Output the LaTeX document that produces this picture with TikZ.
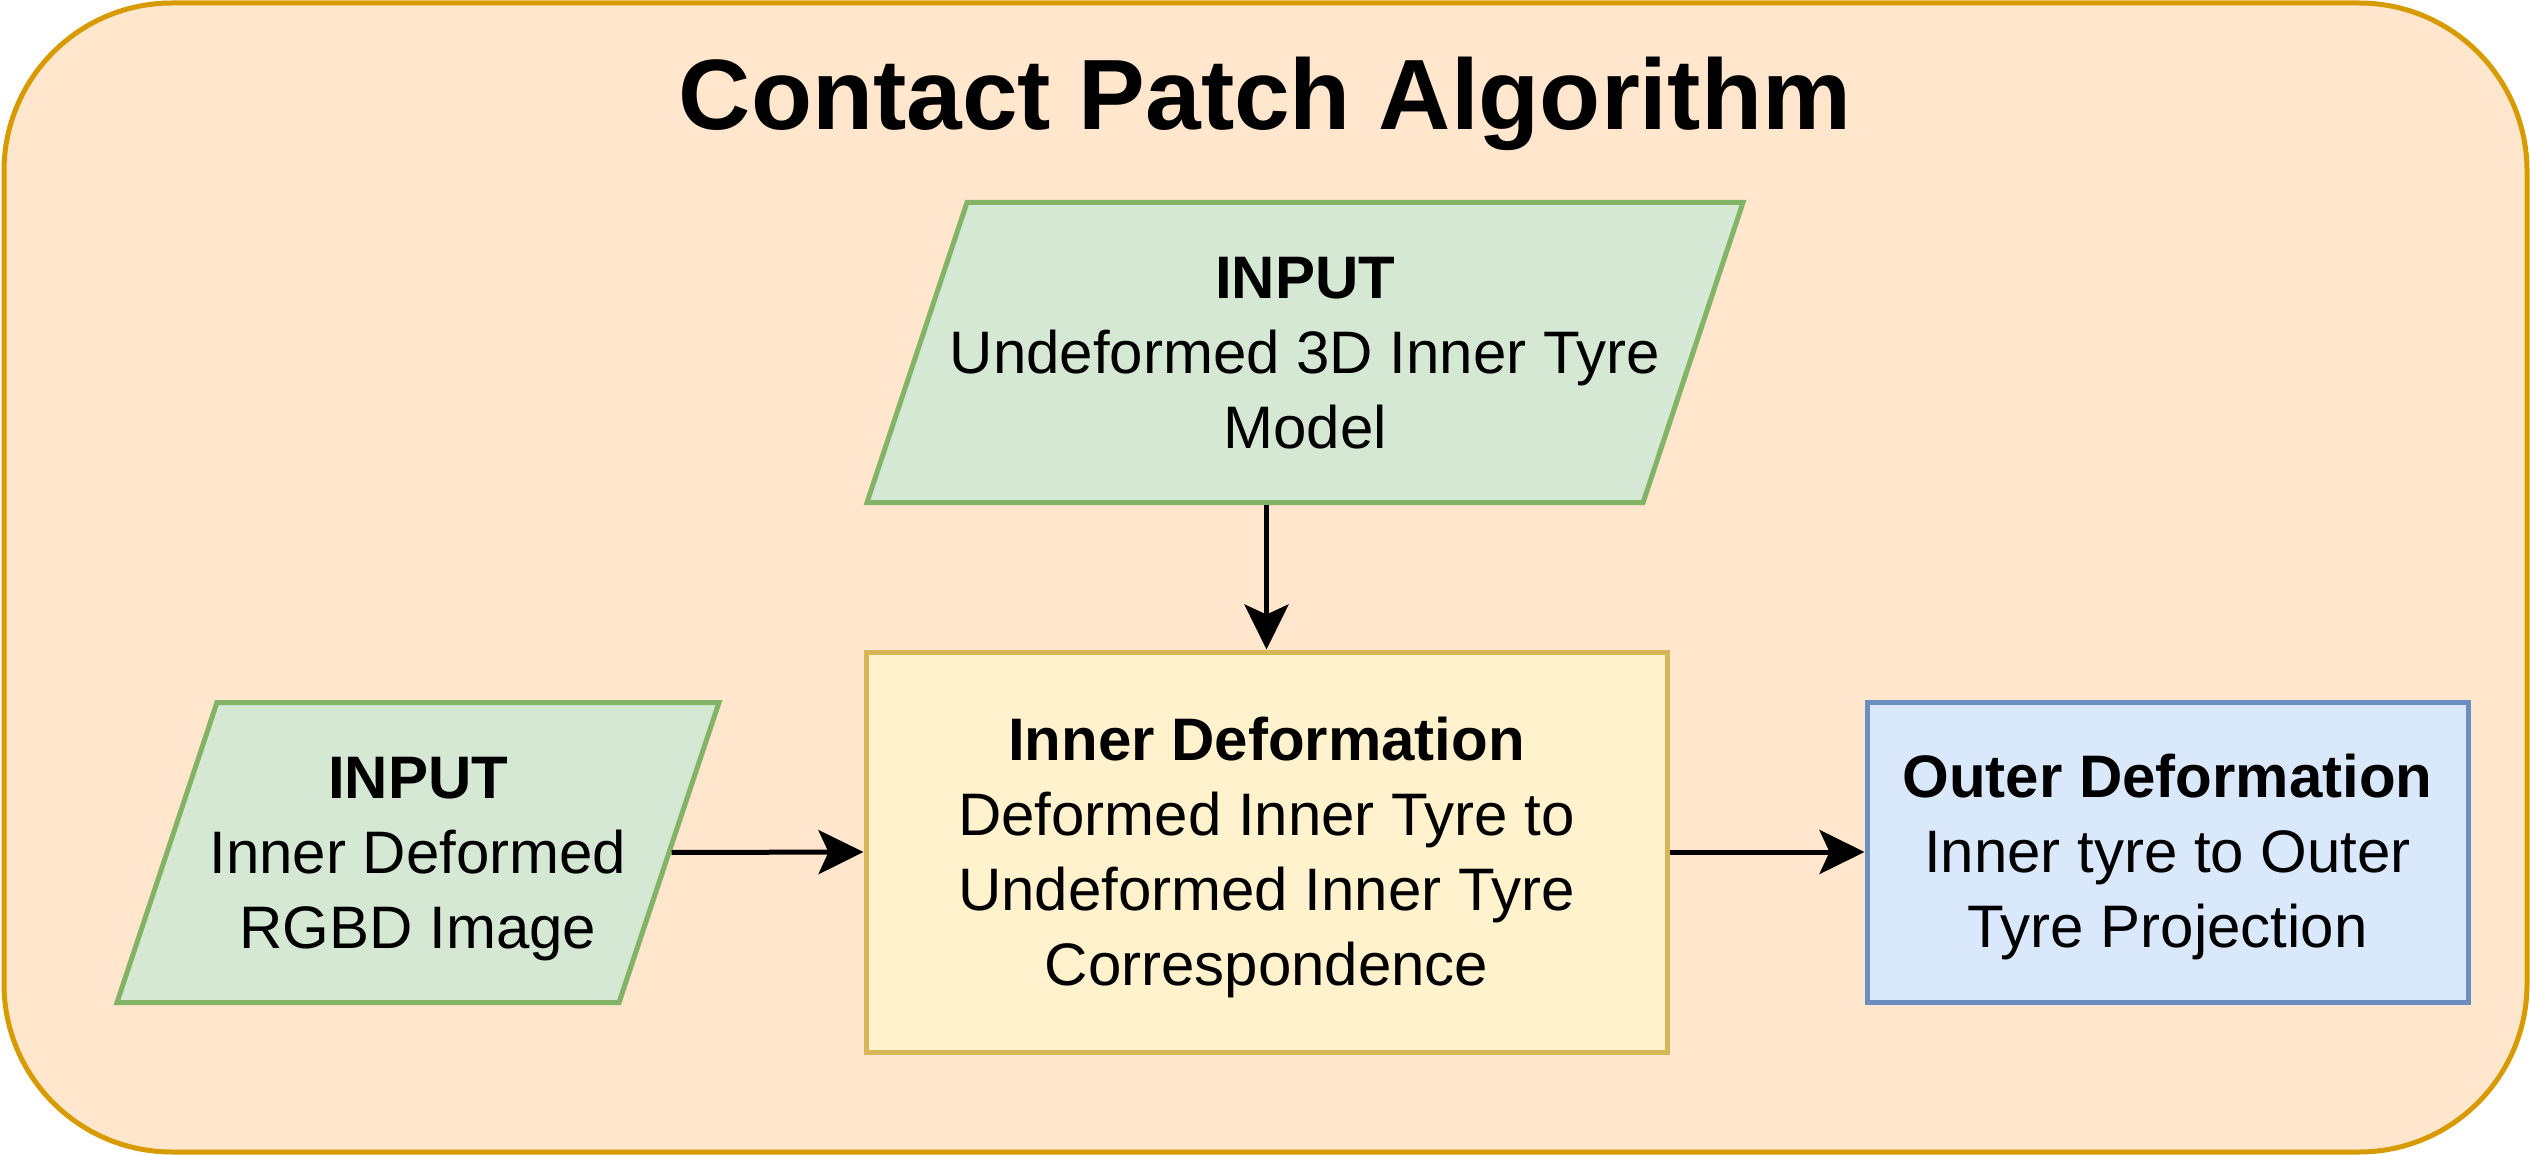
\documentclass[tikz,border=0pt]{standalone}
\usepackage{fontspec}
\setmainfont{Liberation Sans}
\usepackage{tikz}
\usetikzlibrary{shapes.geometric,arrows.meta,positioning}
\definecolor{patchfill}{HTML}{FFE6CC}
\definecolor{patchdraw}{HTML}{D79B00}
\definecolor{inputfill}{HTML}{D5E8D4}
\definecolor{inputdraw}{HTML}{82B366}
\definecolor{innerfill}{HTML}{FFF2CC}
\definecolor{innerdraw}{HTML}{D6B656}
\definecolor{outerfill}{HTML}{DAE8FC}
\definecolor{outerdraw}{HTML}{6C8EBF}
\newcommand{\patchtitlefont}{\fontsize{100}{120}\selectfont\bfseries}
\newcommand{\patchbodyfont}{\fontsize{60}{75}\selectfont}
% line box as drawio sets it: 75pt high, baseline 58.3pt from its top
\newcommand{\ps}{\rule[-16.7pt]{0pt}{75pt}}

\begin{document}
\begin{tikzpicture}[x=1pt, y=-1pt,
        labeltext/.style={align=center, font=\patchbodyfont},
        inputbox/.style={trapezium, trapezium left angle=71.57, trapezium right angle=108.43,
            trapezium stretches body=true, inner xsep=-40pt, inner ysep=37.5pt,
            draw=inputdraw, fill=inputfill, line width=5pt, labeltext},
        stagebox/.style={rectangle, line width=5pt, labeltext},
        flowarrow/.style={-{Stealth[length=45pt, width=44pt, inset=10pt]}, line width=5pt}]
        \useasboundingbox (0,0) rectangle (2530,1155);

        % Container: contact patch algorithm
        \draw[rounded corners=168pt, fill=patchfill, draw=patchdraw, line width=5pt] (4,3) rectangle (2527,1152);
        \node[font=\patchtitlefont] (title) at (1265,104) {Contact Patch Algorithm};

        % Inputs
        \node[inputbox, minimum width=876pt, minimum height=299pt] (modelinput) at (1305,352.5)
            {\ps\textbf{INPUT}\\Undeformed 3D Inner Tyre\\Model\ps};
        \node[inputbox, minimum width=602pt, minimum height=299pt] (imageinput) at (418,852.5)
            {\ps\textbf{INPUT}\\Inner Deformed\\RGBD Image\ps};

        % Deformation stages
        \node[stagebox, draw=innerdraw, fill=innerfill, minimum width=801pt, minimum height=400pt] (innerdef) at (1266.5,852)
            {\ps\textbf{Inner Deformation}\\Deformed Inner Tyre to\\Undeformed Inner Tyre\\Correspondence\ps};
        \node[stagebox, draw=outerdraw, fill=outerfill, minimum width=601pt, minimum height=300pt, right=195pt of innerdef] (outerdef)
            {\ps\textbf{Outer Deformation}\\Inner tyre to Outer\\Tyre Projection\ps};

        % Arrows
        \draw[flowarrow] (modelinput.south -| innerdef.north) -- (innerdef.north);
        \draw[flowarrow] (imageinput.east) -- (innerdef.west);
        \draw[flowarrow] (innerdef.east) -- (outerdef.west);
    \end{tikzpicture}
\end{document}
